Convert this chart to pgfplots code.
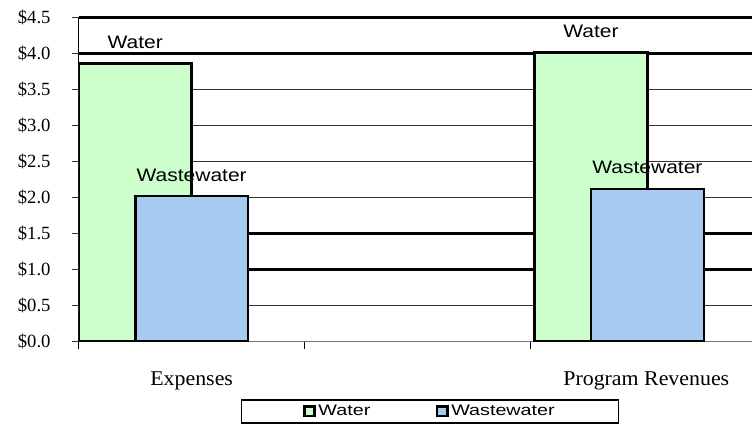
\documentclass[border=0pt]{standalone}
\usepackage{fontspec}
\usepackage{pgfplots}
\pgfplotsset{compat=1.18}
\setmainfont{Liberation Serif}
\newfontfamily\tnrplain{Liberation Serif}[FakeStretch=1.04]
\newfontfamily\arl{Liberation Sans}[FakeStretch=1.16]
\newfontfamily\arlL{Liberation Sans}[FakeStretch=1.29]
\definecolor{watergreen}{RGB}{204,255,204}
\definecolor{wwblue}{RGB}{166,202,240}
\begin{document}
\begin{tikzpicture}
\begin{axis}[
  name=ax,
  scale only axis,
  width=505.5pt, height=243.75pt,
  xmin=0, xmax=2.982, ymin=0, ymax=4.5,
  axis x line=bottom, axis y line=left,
  axis line style={-},
  x axis line style={black!55, line width=0.75pt},
  y axis line style={black, line width=0.75pt},
  ytick={0,0.5,1,1.5,2,2.5,3,3.5,4,4.5},
  yticklabel={\$\pgfmathprintnumber[fixed,fixed zerofill,precision=1,assume math mode=true]{\tick}},
  yticklabel style={font=\rmfamily\fontsize{14pt}{16pt}\selectfont, anchor=east, xshift=-12.5pt},
  ytick style={black!80, line width=0.75pt},
  tick align=outside,
  major tick length=5.25pt,
  ymajorgrids,
  grid style={black!80, line width=0.75pt},
  extra y ticks={1,1.5,4,4.5},
  extra y tick style={yticklabel=\empty, grid style={black, line width=2pt}, tick style={black, line width=2pt}},
  xtick={0,1,2},
  xticklabels={},
  xtick style={black, line width=0.75pt},
  extra x ticks={0.5,2.515},
  extra x tick labels={Expenses,Program Revenues},
  extra x tick style={major tick length=0pt, xticklabel style={font=\tnrplain\fontsize{15.8pt}{18pt}\selectfont, yshift=-18.75pt}},
  bar width=0.5,
  legend columns=2,
  legend style={at={(0.522,-0.215)}, anchor=center, draw=black, line width=1pt,
    font=\arlL\fontsize{11.5pt}{13pt}\selectfont, inner xsep=46pt, inner ysep=2pt,
    /tikz/every even column/.append style={column sep=47pt}},
  legend image code/.code={\draw[#1, line width=2.2pt] (0pt,-3.4pt) rectangle (7.6pt,3.4pt);},
  nodes near coords style={font=\arl\fontsize{13.6pt}{16pt}\selectfont, anchor=south, inner sep=0pt, yshift=10.2pt, text=black},
]
\addplot[ybar, bar shift=0pt, fill=watergreen, draw=black, line width=2pt, nodes near coords={Water}]
  coordinates {(0.25,3.86) (2.27,4.01)};
\addlegendentry{Water}
\addplot[ybar, bar shift=0pt, fill=wwblue, draw=black, line width=2pt, nodes near coords={Wastewater}]
  coordinates {(0.5,2.02) (2.52,2.12)};
\addlegendentry{Wastewater}
\end{axis}
\path ([xshift=-59.25pt,yshift=-61.7pt]ax.south west) rectangle ([yshift=13pt]ax.north east);
\end{tikzpicture}
\end{document}
